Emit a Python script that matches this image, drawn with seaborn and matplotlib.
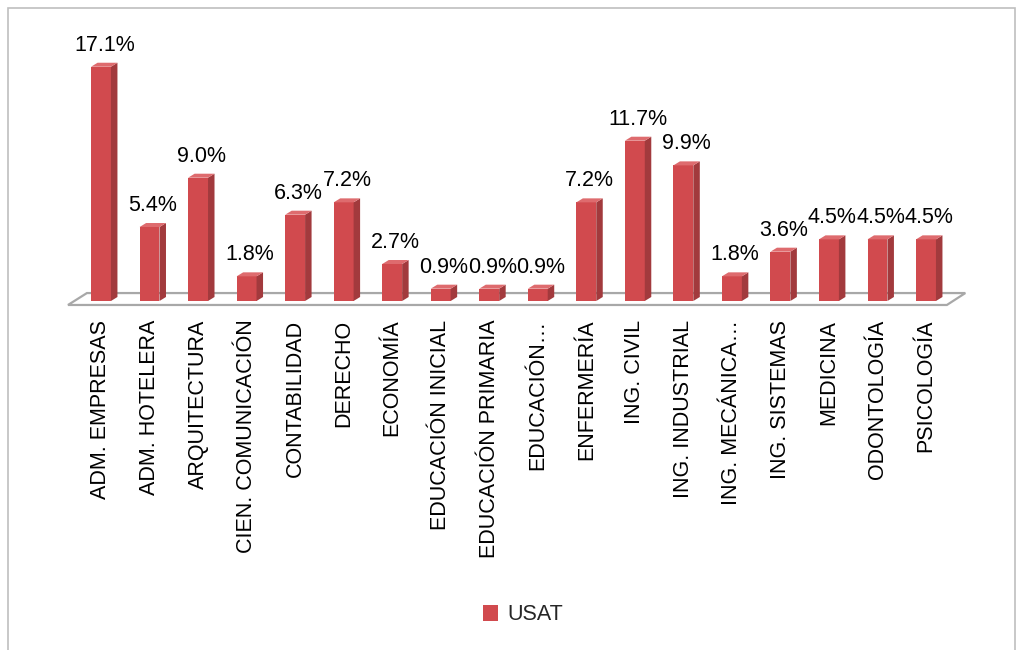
import numpy as np
import pandas as pd
import seaborn as sns
import matplotlib.pyplot as plt
from matplotlib.patches import Polygon, Rectangle

categories = ["ADM. EMPRESAS", "ADM. HOTELERA", "ARQUITECTURA", "CIEN. COMUNICACIÓN",
              "CONTABILIDAD", "DERECHO", "ECONOMÍA", "EDUCACIÓN INICIAL",
              "EDUCACIÓN PRIMARIA", "EDUCACIÓN…", "ENFERMERÍA", "ING. CIVIL",
              "ING. INDUSTRIAL", "ING. MECÁNICA…", "ING. SISTEMAS", "MEDICINA",
              "ODONTOLOGÍA", "PSICOLOGÍA"]
values = [17.1, 5.4, 9.0, 1.8, 6.3, 7.2, 2.7, 0.9, 0.9, 0.9, 7.2, 11.7, 9.9, 1.8, 3.6, 4.5, 4.5, 4.5]
series_name = "USAT"

sns.set_theme(style="white")
plt.rcParams['font.family'] = ['Liberation Sans', 'DejaVu Sans']

W, H = 1023, 650
fig = plt.figure(figsize=(W / 100, H / 100), dpi=100)

# pixel layout
px_step = 48.53
px_first = 101
ax_left_px, ax_right_px = 60, 975
ax_top_px, ax_bot_px = 20, 310
base_px = 301
px_per_unit = 13.7

ax = fig.add_axes([ax_left_px / W, 1 - ax_bot_px / H,
                   (ax_right_px - ax_left_px) / W, (ax_bot_px - ax_top_px) / H])

df = pd.DataFrame({"carrera": categories, "pct": values, "serie": series_name})
front = "#D14A4E"
side = "#A23A3D"
topc = "#DE6B6E"
sns.barplot(data=df, x="carrera", y="pct", hue="serie", palette=[front],
            width=0.41, ax=ax, legend=False, zorder=3, saturation=1)
bars = list(ax.patches)

ax.set_xlim((ax_left_px - px_first) / px_step, (ax_right_px - px_first) / px_step)
ax.set_ylim((base_px - ax_bot_px) / px_per_unit, (base_px - ax_top_px) / px_per_unit)

dx = 6.5 / px_step
dy = 4 / px_per_unit

# floor
fdx_l, fdx_r = -0.68, 17.43
floor = Polygon([(fdx_l, -0.29), (fdx_r, -0.29), (fdx_r + 0.38, 0.58), (fdx_l + 0.39, 0.58)],
                closed=True, facecolor="white", edgecolor="#A8A8A8", lw=1.6, zorder=1)
ax.add_patch(floor)

for p, v in zip(bars, values):
    x0, w, h = p.get_x(), p.get_width(), p.get_height()
    p.set_edgecolor("none")
    ax.add_patch(Polygon([(x0 + w, 0), (x0 + w + dx, dy), (x0 + w + dx, h + dy), (x0 + w, h)],
                         closed=True, facecolor=side, edgecolor="none", zorder=3))
    ax.add_patch(Polygon([(x0, h), (x0 + w, h), (x0 + w + dx, h + dy), (x0 + dx, h + dy)],
                         closed=True, facecolor=topc, edgecolor="none", zorder=3))
    ax.annotate(f"{v:.1f}%", (x0 + (w + dx) / 2, h + dy), xytext=(0, 5),
                textcoords="offset points", ha="center", va="bottom", fontsize=15.5, color="black")

ax.set_xlabel("")
ax.set_ylabel("")
ax.set_yticks([])
ax.tick_params(axis="x", length=0, pad=7)
ax.set_xticks(range(len(categories)))
ax.set_xticklabels(categories, rotation=90, fontsize=15.5, color="black")
for s in ax.spines.values():
    s.set_visible(False)

# legend
handle = Rectangle((0, 0), 1, 1, facecolor=front, edgecolor="none")
fig.legend([handle], [series_name], loc="center", bbox_to_anchor=(523 / W, 1 - 615 / H),
           frameon=False, fontsize=15.5, handlelength=0.7, handleheight=0.7, handletextpad=0.4)

# chart border
fig.add_artist(Rectangle((8 / W, -0.01), (1015 - 8) / W, 1 - 8 / H + 0.01,
                         transform=fig.transFigure, fill=False, edgecolor="#BFBFBF", lw=1.2))

fig.savefig("out.png", dpi=100)
